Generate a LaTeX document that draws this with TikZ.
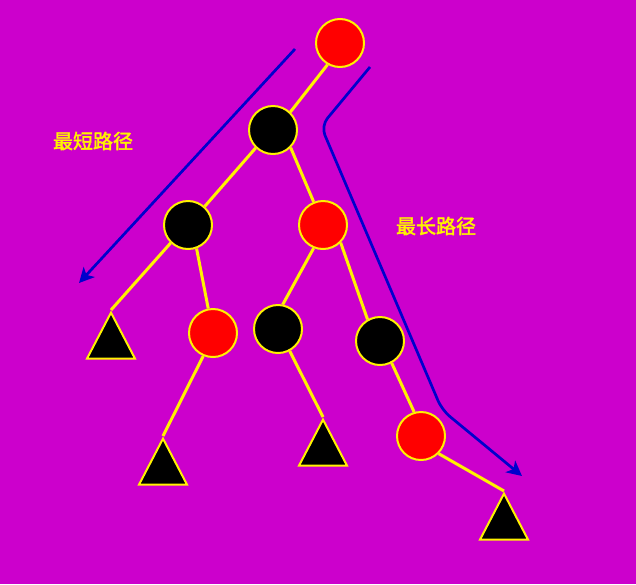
\documentclass[tikz,border=0pt]{standalone}
\usepackage{fontspec}
\newfontfamily\cjk{Noto Sans CJK SC}[AutoFakeBold=2]
\usetikzlibrary{shapes.geometric,arrows.meta}
\definecolor{bgmagenta}{RGB}{204,0,204}
\definecolor{pathblue}{RGB}{0,0,204}

\begin{document}
\begin{tikzpicture}[x=1pt, y=-1pt,
			rnode/.style={circle, draw=yellow, line width=2pt, fill=red,
				minimum size=48pt, inner sep=0pt},
			bnode/.style={rnode, fill=black},
			nilleaf/.style={isosceles triangle, isosceles triangle stretches,
				shape border rotate=90, draw=yellow, line width=2pt, fill=black,
				minimum width=48pt, minimum height=46pt, inner sep=0pt, anchor=apex},
			tedge/.style={yellow, line width=3pt},
			parr/.style={-{Stealth[length=15pt, width=15pt, inset=4pt]}, pathblue, line width=2.7pt},
			lbl/.style={text=yellow, font=\cjk\bfseries\fontsize{20}{20}\selectfont}
		]
			\useasboundingbox (0,0) rectangle (636,584);
			\fill[bgmagenta] (0,0) rectangle (636,584);
			\node[rnode] (root) at (340,43) {};
			\node[bnode] (b1) at (273,130) {};
			\node[bnode] (b2) at (188,225) {};
			\node[rnode] (r2) at (323,225) {};
			\node[rnode] (r3) at (213,333) {};
			\node[bnode] (b3) at (278,329) {};
			\node[bnode] (b4) at (380,341) {};
			\node[rnode] (r4) at (421,436) {};
			\node[nilleaf] (t1) at (111,310) {};
			\node[nilleaf] (t2) at (163,436) {};
			\node[nilleaf] (t3) at (323,417) {};
			\node[nilleaf] (t4) at (504,491) {};
			\draw[tedge] (root.-120) -- (b1.46);
			\draw[tedge] (b1.-134) -- (b2.48);
			\draw[tedge] (b1.-45) -- (r2.112);
			\draw[tedge] (b2.-134) -- (t1.apex);
			\draw[tedge] (b2.-70) -- (r3.101);
			\draw[tedge] (r3.-113) -- (t2.apex);
			\draw[tedge] (r2.-112) -- (b3.79);
			\draw[tedge] (r2.-45) -- (b4.120);
			\draw[tedge] (b3.-62) -- (t3.apex);
			\draw[tedge] (b4.-62) -- (r4.106);
			\draw[tedge] (r4.-45) -- (t4.apex);
			\coordinate (s0) at (295,49);
			\coordinate (s1) at (79,283);
			\coordinate (l0) at (370,67);
			\coordinate (l1) at (321,126);
			\coordinate (l2) at (442,410);
			\coordinate (l3) at (522,476);
			\draw[parr] (s0) -- (s1);
			\draw[parr, rounded corners=10pt] (l0) -- (l1) -- (l2) -- (l3);
			\node[lbl] (shortlbl) at (93,141) {最短路径};
			\node[lbl] (longlbl) at (436,226) {最长路径};
		\end{tikzpicture}
\end{document}
